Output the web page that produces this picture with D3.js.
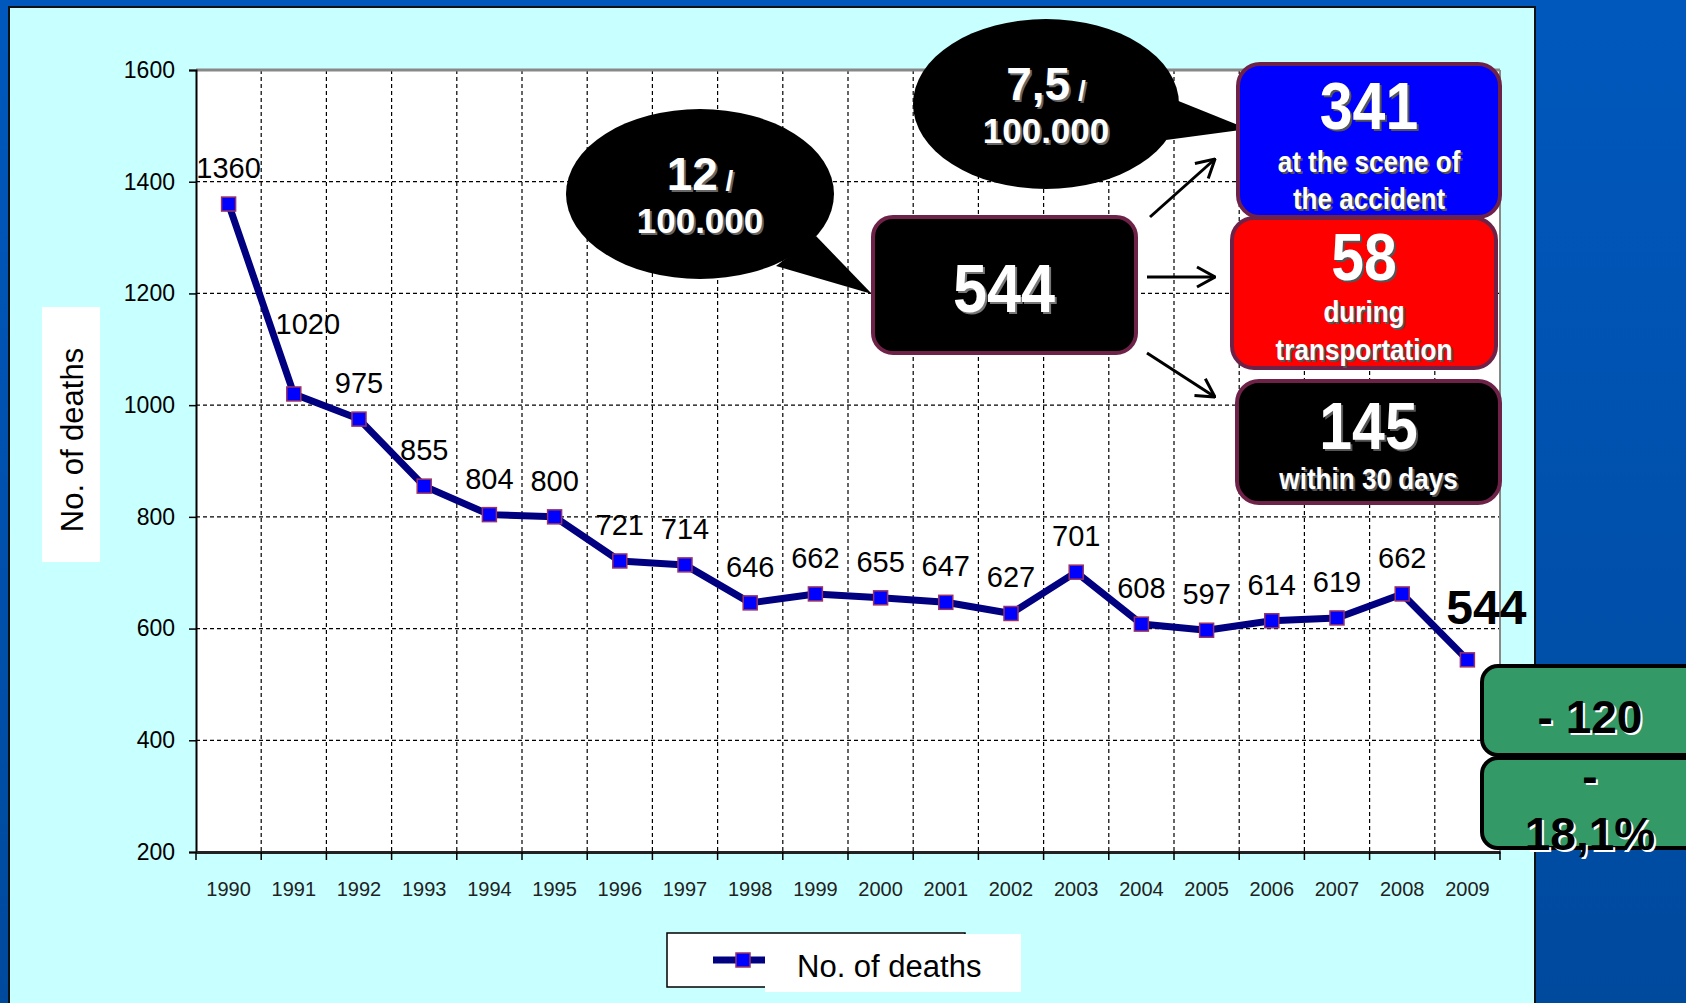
<!DOCTYPE html>
<html>
<head>
<meta charset="utf-8">
<script src="https://cdn.jsdelivr.net/npm/d3@7"></script>
<style>
  body { margin: 0; background: #0052b0; }
  svg { display: block; font-family: "Liberation Sans", Arial, sans-serif; }
</style>
</head>
<body>
<svg id="chart" width="1686" height="1003"></svg>
<script>
// chart data
const years = ["1990", "1991", "1992", "1993", "1994", "1995", "1996", "1997", "1998", "1999",
               "2000", "2001", "2002", "2003", "2004", "2005", "2006", "2007", "2008", "2009"];
const deaths = [1360, 1020, 975, 855, 804, 800, 721, 714, 646, 662,
                655, 647, 627, 701, 608, 597, 614, 619, 662, 544];
const yTicks = [200, 400, 600, 800, 1000, 1200, 1400, 1600];

// callout texts
const rateTotal = ["12", " /", "100.000"];
const rateScene = ["7,5", " /", "100.000"];
const total2009 = "544";
const breakdownValues = ["341", "58", "145"];
const breakdownLines = [["at the scene of", "the accident"], ["during", "transportation"], ["within 30 days"]];
const changeLines = ["- 120", "-", "18,1%"];

const svg = d3.select("#chart");
const defs = svg.append("defs");

const grad = defs.append("linearGradient").attr("id", "bg").attr("x1", 0).attr("y1", 0).attr("x2", 0).attr("y2", 1);
grad.append("stop").attr("offset", "0%").attr("stop-color", "#0058bd");
grad.append("stop").attr("offset", "100%").attr("stop-color", "#004a9e");

defs.append("marker").attr("id", "arrow")
  .attr("viewBox", "0 -12 20 24").attr("refX", 19).attr("refY", 0)
  .attr("markerWidth", 20).attr("markerHeight", 24).attr("markerUnits", "userSpaceOnUse")
  .attr("orient", "auto")
  .append("path").attr("d", "M1,-10L19,0L1,10").attr("fill", "none").attr("stroke", "#000").attr("stroke-width", 3);

// backgrounds
svg.append("rect").attr("width", 1686).attr("height", 1003).attr("fill", "url(#bg)");
svg.append("rect").attr("x", 9).attr("y", 7).attr("width", 1526).attr("height", 1000)
  .attr("fill", "#c8ffff").attr("stroke", "#111").attr("stroke-width", 2);

const pLeft = 196, pRight = 1500, pTop = 70, pBottom = 852;

const x = d3.scaleBand().domain(years).range([pLeft, pRight]);
const y = d3.scaleLinear().domain([200, 1600]).range([pBottom, pTop]);

// plot area
svg.append("rect").attr("x", pLeft).attr("y", pTop).attr("width", pRight - pLeft).attr("height", pBottom - pTop).attr("fill", "#fff");

// horizontal grid
svg.append("g").selectAll("line").data(yTicks.filter(d => d > 200 && d < 1600)).join("line")
  .attr("x1", pLeft).attr("x2", pRight).attr("y1", d => y(d)).attr("y2", d => y(d))
  .attr("stroke", "#000").attr("stroke-width", 1.2).attr("stroke-dasharray", "4,3");

// vertical grid at category boundaries
const bounds = years.slice(1).map(d => x(d));
svg.append("g").selectAll("line").data(bounds).join("line")
  .attr("x1", d => d).attr("x2", d => d).attr("y1", pTop).attr("y2", pBottom)
  .attr("stroke", "#000").attr("stroke-width", 1.2).attr("stroke-dasharray", "4,3");

// plot borders
svg.append("line").attr("x1", pLeft).attr("x2", pRight).attr("y1", pTop).attr("y2", pTop).attr("stroke", "#888").attr("stroke-width", 3);
svg.append("line").attr("x1", pRight).attr("x2", pRight).attr("y1", pTop).attr("y2", pBottom).attr("stroke", "#888").attr("stroke-width", 2);

// y axis
const yAxis = svg.append("g").attr("transform", `translate(${pLeft},0)`)
  .call(d3.axisLeft(y).tickValues(yTicks).tickSize(7).tickPadding(14).tickFormat(d3.format("d")));
yAxis.select(".domain").attr("stroke", "#000").attr("stroke-width", 2);
yAxis.selectAll(".tick line").attr("stroke", "#000").attr("stroke-width", 1.5);
yAxis.selectAll("text").attr("font-size", 23).attr("fill", "#000").attr("font-family", "Liberation Sans, Arial, sans-serif");

// x axis
const xAxis = svg.append("g").attr("transform", `translate(0,${pBottom})`)
  .call(d3.axisBottom(x).tickSize(0).tickPadding(30));
xAxis.select(".domain").attr("stroke", "#222").attr("stroke-width", 3);
xAxis.selectAll("text").attr("font-size", 20).attr("fill", "#222").attr("font-family", "Liberation Sans, Arial, sans-serif");
svg.append("g").selectAll("line").data([pLeft, ...bounds, pRight]).join("line")
  .attr("x1", d => d).attr("x2", d => d).attr("y1", pBottom).attr("y2", pBottom + 8)
  .attr("stroke", "#000").attr("stroke-width", 1.5);

// series line
const cx = (d, i) => x(years[i]) + x.bandwidth() / 2;
svg.append("path").datum(deaths)
  .attr("d", d3.line().x(cx).y(d => y(d)))
  .attr("fill", "none").attr("stroke", "#000080").attr("stroke-width", 7).attr("stroke-linejoin", "round");

svg.append("g").selectAll("rect").data(deaths).join("rect")
  .attr("x", (d, i) => cx(d, i) - 7).attr("y", d => y(d) - 7)
  .attr("width", 14).attr("height", 14)
  .attr("fill", "#0000ff").attr("stroke", "#993366").attr("stroke-width", 1.5);

// data labels
const last = deaths.length - 1;
svg.append("g").selectAll("text").data(deaths).join("text")
  .attr("x", (d, i) => cx(d, i) + (i === 1 ? 14 : i === last ? 19 : 0))
  .attr("y", (d, i) => y(d) - (i === 1 ? 60 : i === last ? 36 : 26))
  .attr("text-anchor", "middle")
  .attr("font-size", (d, i) => i === last ? 48 : 29)
  .attr("font-weight", (d, i) => i === last ? "bold" : "normal")
  .attr("fill", "#000")
  .text(d => d);

// y title
svg.append("rect").attr("x", 42).attr("y", 307).attr("width", 58).attr("height", 255).attr("fill", "#fff");
svg.append("text").attr("transform", "translate(83,440) rotate(-90)")
  .attr("text-anchor", "middle").attr("font-size", 31).attr("fill", "#000").text("No. of deaths");

// legend
svg.append("rect").attr("x", 667).attr("y", 933).attr("width", 298).attr("height", 54)
  .attr("fill", "#fff").attr("stroke", "#000").attr("stroke-width", 1.5);
svg.append("line").attr("x1", 713).attr("x2", 772).attr("y1", 960).attr("y2", 960)
  .attr("stroke", "#000080").attr("stroke-width", 7);
svg.append("rect").attr("x", 736).attr("y", 953).attr("width", 14).attr("height", 14)
  .attr("fill", "#0000ff").attr("stroke", "#993366").attr("stroke-width", 1.5);
svg.append("rect").attr("x", 765).attr("y", 934).attr("width", 256).attr("height", 58).attr("fill", "#fff");
svg.append("text").attr("x", 797).attr("y", 977).attr("font-size", 31).attr("fill", "#000").text("No. of deaths");

// helper for text with drop shadow, optionally squeezed horizontally
function shadowText(g, tx, ty, parts, fill, shade, sx = 1) {
  [[shade, 2], [fill, 0]].forEach(([c, o]) => {
    const t = g.append("text").attr("transform", `translate(${tx + o},${ty + o}) scale(${sx},1)`)
      .attr("text-anchor", "middle").attr("font-weight", "bold").attr("fill", c);
    parts.forEach(p => t.append("tspan").attr("font-size", p[1]).text(p[0]));
  });
}

const call = svg.append("g");

// speech bubbles
function bubble(cxp, cyp, rx, ry, tail, lines) {
  call.append("ellipse").attr("cx", cxp).attr("cy", cyp).attr("rx", rx).attr("ry", ry).attr("fill", "#000");
  call.append("path").attr("d", d3.line()(tail)).attr("fill", "#000");
  shadowText(call, cxp, cyp - 4, [[lines[0], 46], [lines[1], 28]], "#fff", "#666");
  shadowText(call, cxp, cyp + 39, [[lines[2], 35]], "#fff", "#666");
}
bubble(700, 194, 134, 85, [[816, 236], [872, 294], [776, 266]], rateTotal);
bubble(1046, 104, 133, 85, [[1176, 100], [1248, 129], [1166, 140]], rateScene);

// total box
call.append("rect").attr("x", 873).attr("y", 217).attr("width", 263).attr("height", 136).attr("rx", 20)
  .attr("fill", "#000").attr("stroke", "#6e2248").attr("stroke-width", 4);
shadowText(call, 1004, 312, [[total2009, 68]], "#fff", "#777", 0.9);

// arrows
[[[1150, 217], [1215, 159]], [[1147, 277], [1215, 277]], [[1147, 353], [1215, 397]]].forEach(a => {
  call.append("line").attr("x1", a[0][0]).attr("y1", a[0][1]).attr("x2", a[1][0]).attr("y2", a[1][1])
    .attr("stroke", "#000").attr("stroke-width", 3).attr("marker-end", "url(#arrow)");
});

// breakdown boxes
const boxes = [
  { x: 1238, y: 64, w: 262, h: 153, fill: "#0000ff", vy: 129, ly: [172, 209] },
  { x: 1232, y: 218, w: 264, h: 150, fill: "#ff0000", vy: 280, ly: [322, 360] },
  { x: 1237, y: 381, w: 263, h: 122, fill: "#000", vy: 449, ly: [489] }
];
boxes.forEach((b, i) => {
  call.append("rect").attr("x", b.x).attr("y", b.y).attr("width", b.w).attr("height", b.h).attr("rx", 22)
    .attr("fill", b.fill).attr("stroke", "#6e2248").attr("stroke-width", 4);
  const mx = b.x + b.w / 2;
  shadowText(call, mx, b.vy, [[breakdownValues[i], 67]], "#fff", "#555", 0.88);
  breakdownLines[i].forEach((l, j) => shadowText(call, mx, b.ly[j], [[l, 29]], "#fff", "#555", 0.9));
});

// change boxes
call.append("rect").attr("x", 1482).attr("y", 666).attr("width", 240).attr("height", 89).attr("rx", 16)
  .attr("fill", "#339966").attr("stroke", "#000").attr("stroke-width", 4);
call.append("rect").attr("x", 1482).attr("y", 758).attr("width", 240).attr("height", 90).attr("rx", 16)
  .attr("fill", "#339966").attr("stroke", "#000").attr("stroke-width", 4);
shadowText(call, 1590, 733, [[changeLines[0], 46]], "#000", "#fff");
shadowText(call, 1590, 792, [[changeLines[1], 46]], "#000", "#fff");
shadowText(call, 1590, 850, [[changeLines[2], 46]], "#000", "#fff");
</script>
</body>
</html>
